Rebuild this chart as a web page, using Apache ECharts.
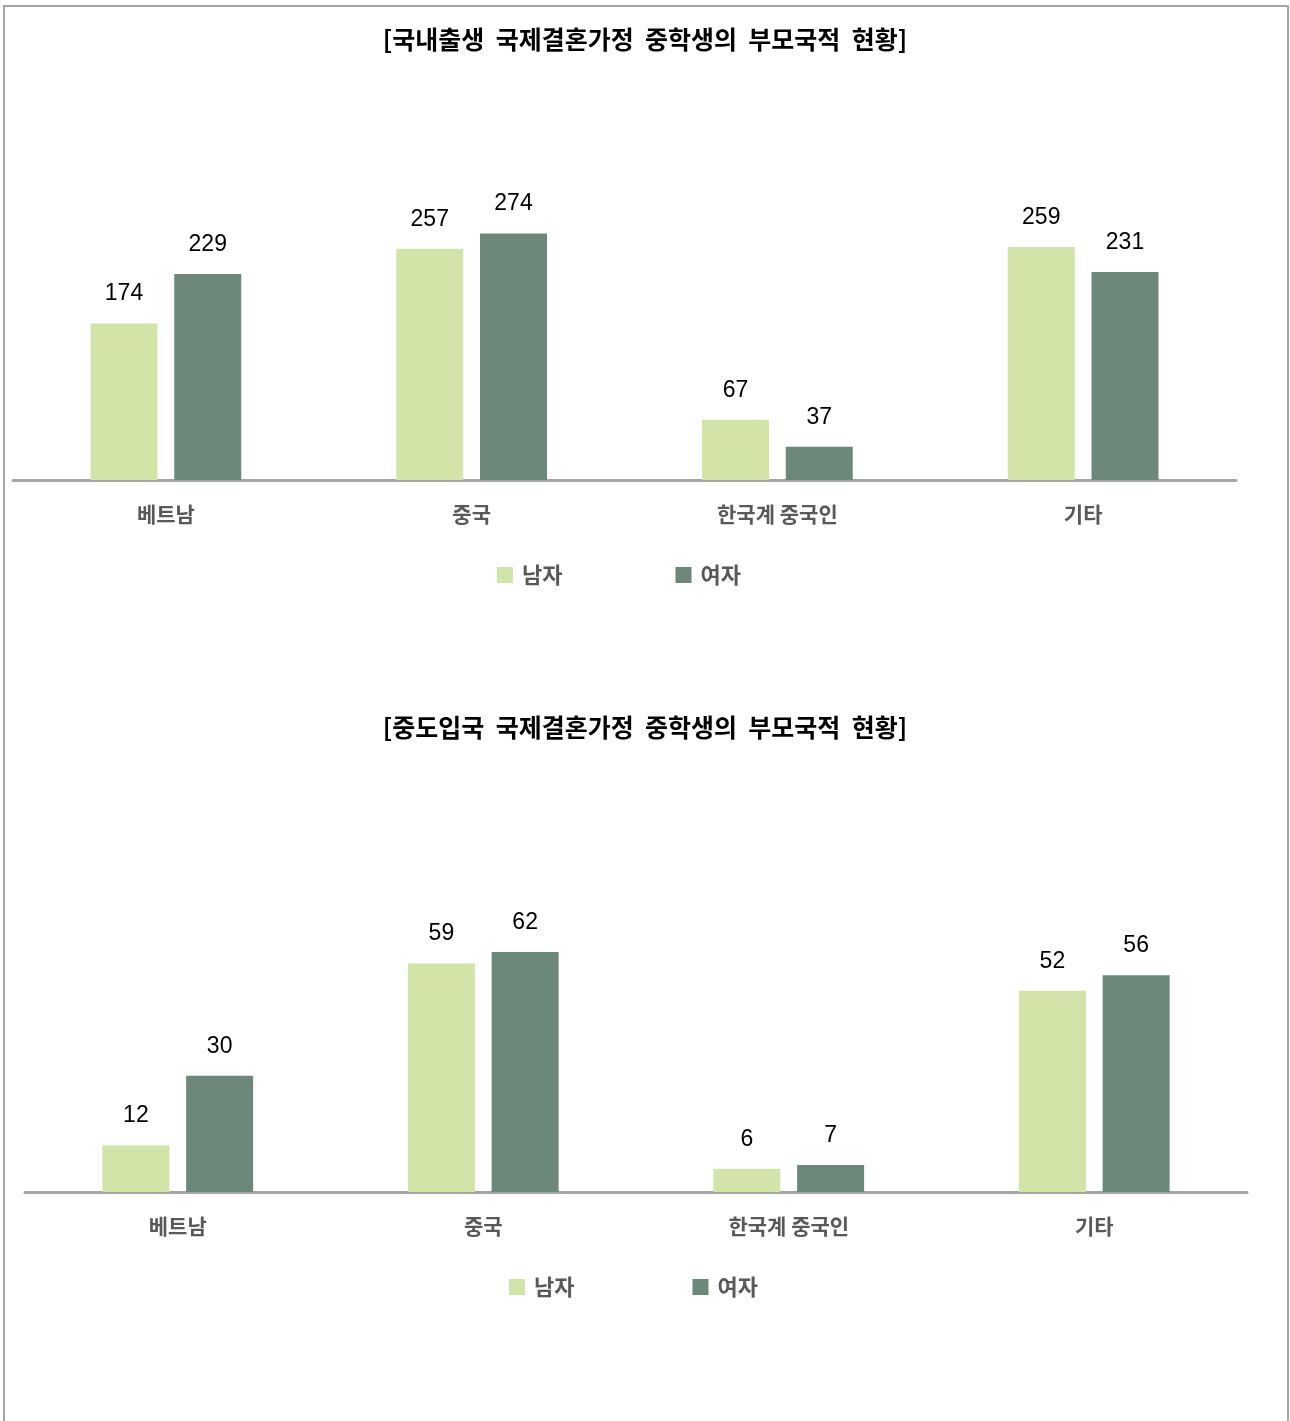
<!DOCTYPE html>
<html><head><meta charset="utf-8">
<script src="https://cdn.jsdelivr.net/npm/echarts@6/dist/echarts.min.js"></script>
<style>html,body{margin:0;padding:0;background:#fff}#c{width:1290px;height:1421px}</style>
</head><body><div id="c"></div>
<script>
const categories = ['베트남', '중국', '한국계 중국인', '기타'];
const seriesNames = ['남자', '여자'];
const title1 = '[국내출생  국제결혼가정  중학생의  부모국적  현황]';
const title2 = '[중도입국  국제결혼가정  중학생의  부모국적  현황]';
const domesticMale = [174, 257, 67, 259];
const domesticFemale = [229, 274, 37, 231];
const migrantMale = [12, 59, 6, 52];
const migrantFemale = [30, 62, 7, 56];

const maleColor = '#d3e4a8';
const femaleColor = '#6c887b';
const catFont = {color:'#595959', fontSize:21, fontWeight:'bold', fontFamily:'"Noto Sans CJK KR", sans-serif'};
const valFont = {color:'#000', fontSize:23, fontFamily:'"Liberation Sans Narrow", "Liberation Sans", Arial, sans-serif'};

function bar(name, data, color, xi) {
  return {
    type:'bar', name, data, xAxisIndex:xi, yAxisIndex:xi,
    barWidth:67, barGap:'25%',
    itemStyle:{color},
    label:{show:true, position:'top', distance:18, ...valFont}
  };
}
function xa(gi){
  return {type:'category', gridIndex:gi, data:categories,
    axisLine:{lineStyle:{color:'#a6a6a6', width:3}}, axisTick:{show:false},
    axisLabel:{margin:24, ...catFont}};
}
const legendText = {color:'#595959', fontSize:22, fontWeight:'bold', fontFamily:'"Noto Sans CJK KR", sans-serif', padding:[0,0,0,4]};
const titleText = {fontSize:25, fontWeight:'bold', color:'#000', fontFamily:'"Noto Sans CJK KR", sans-serif'};
const chart = echarts.init(document.getElementById('c'));
chart.setOption({
  animation:false,
  title:[
    {text:title1, left:'center', top:22, textStyle:titleText},
    {text:title2, left:'center', top:710, textStyle:titleText}
  ],
  legend:[
    {data:seriesNames, left:497, top:564, padding:0, itemWidth:16, itemHeight:16, itemGap:113, icon:'rect', textStyle:legendText},
    {data:seriesNames.map(n=>({name:n+' '})), left:509, top:1276, padding:0, itemWidth:16, itemHeight:16, itemGap:113, icon:'rect', textStyle:legendText}
  ],
  grid:[
    {left:13, right:54, top:210, bottom:941},
    {left:25, right:43, top:921, bottom:229}
  ],
  xAxis:[xa(0), xa(1)],
  yAxis:[
    {type:'value', gridIndex:0, min:0, max:300, show:false, splitLine:{show:false}},
    {type:'value', gridIndex:1, min:0, max:70, show:false, splitLine:{show:false}}
  ],
  series:[
    bar(seriesNames[0], domesticMale, maleColor, 0),
    bar(seriesNames[1], domesticFemale, femaleColor, 0),
    bar(seriesNames[0]+' ', migrantMale, maleColor, 1),
    bar(seriesNames[1]+' ', migrantFemale, femaleColor, 1)
  ],
  graphic:[{type:'rect', shape:{x:4, y:6, width:1284, height:1420}, style:{fill:'none', stroke:'#a6a6a6', lineWidth:2}, z:-1}]
});
</script></body></html>
